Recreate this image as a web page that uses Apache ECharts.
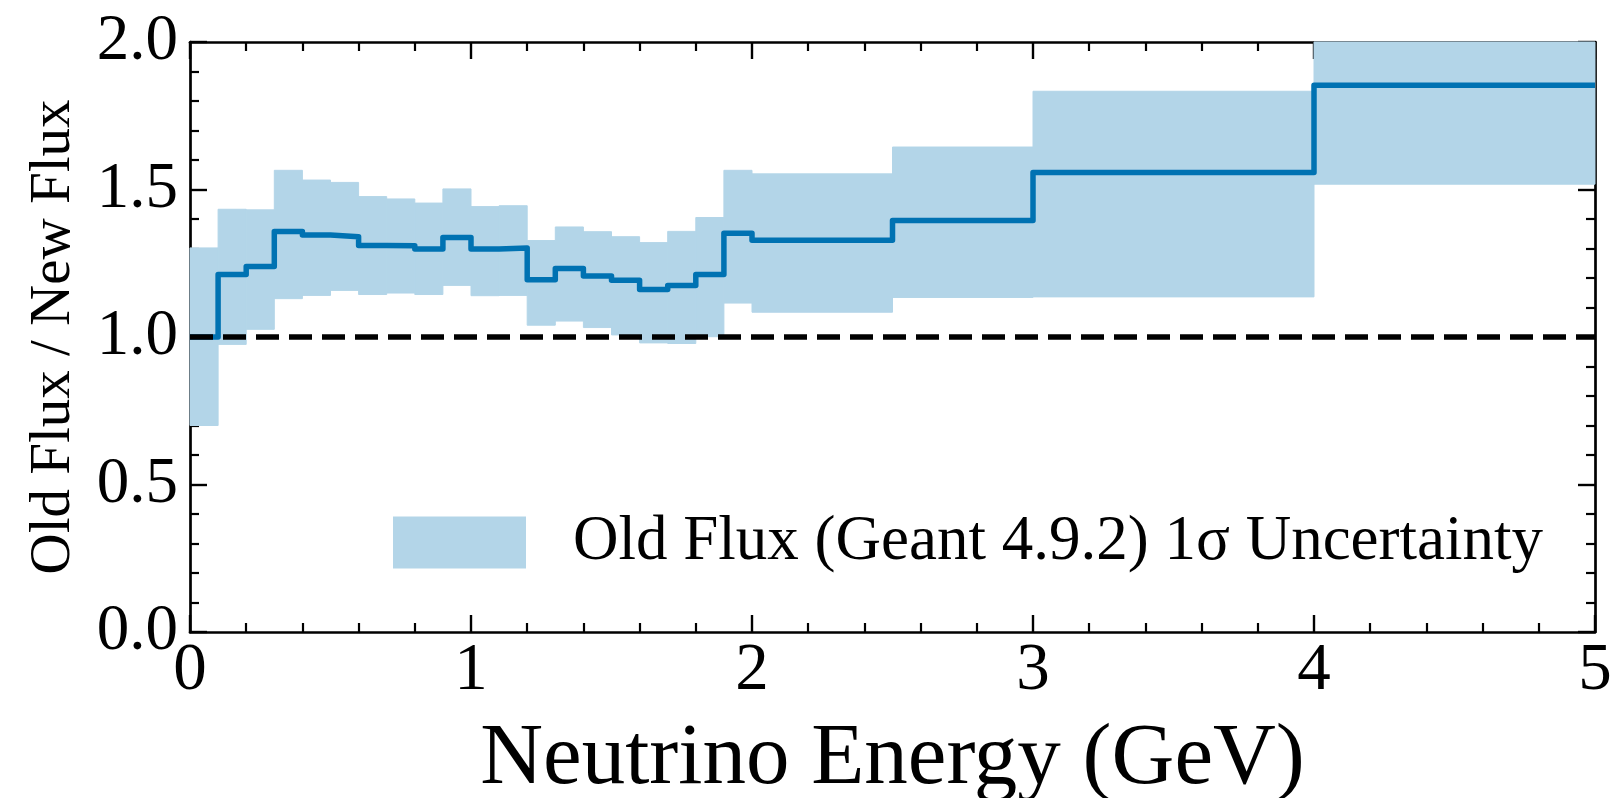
<!DOCTYPE html>
<html>
<head>
<meta charset="utf-8">
<script src="https://cdn.jsdelivr.net/npm/echarts@6/dist/echarts.min.js"></script>
<style>html,body{margin:0;padding:0;background:#fff}#c{width:1610px;height:798px}</style>
</head>
<body>
<div id="c"></div>
<script>
const binEdges = [0,0.1,0.2,0.3,0.4,0.5,0.6,0.7,0.8,0.9,1.0,1.1,1.2,1.3,1.4,1.5,1.6,1.7,1.8,1.9,2.0,2.5,3.0,4.0,5.0];
const ratio    = [1.00,1.212,1.239,1.358,1.346,1.340,1.310,1.309,1.298,1.337,1.298,1.302,1.194,1.232,1.207,1.192,1.161,1.175,1.212,1.352,1.328,1.395,1.558,1.853];
const bandLow  = [0.70,0.975,1.026,1.130,1.141,1.158,1.144,1.149,1.144,1.175,1.140,1.141,1.040,1.054,1.032,1.007,0.980,0.978,1.001,1.115,1.084,1.134,1.136,1.518];
const bandHigh = [1.302,1.433,1.431,1.565,1.532,1.524,1.476,1.468,1.454,1.502,1.442,1.445,1.327,1.373,1.357,1.340,1.320,1.358,1.405,1.565,1.553,1.644,1.833,2.15];
const xTicks = [0,1,2,3,4,5];
const yTicks = [0.0,0.5,1.0,1.5,2.0];
const refLevel = 1.0;
const bandName = 'Old Flux (Geant 4.9.2) 1\u03c3 Uncertainty';

const FONT = 'Liberation Serif';
const BAND = '#b3d5e8';
const LINE = '#0072b2';

const bandData = ratio.map((_, i) => [binEdges[i], binEdges[i+1], bandLow[i], bandHigh[i]]);
const stepData = ratio.map((v, i) => [binEdges[i], v]);
stepData.push([binEdges[binEdges.length-1], ratio[ratio.length-1]]);

const chart = echarts.init(document.getElementById('c'), null, {renderer:'canvas'});

const axisCommon = {
  type: 'value',
  axisLine: {show: true, onZero: false, lineStyle: {color: '#000', width: 2.7}},
  axisTick: {show: true, inside: true, length: 17, lineStyle: {color: '#000', width: 2.4}},
  minorTick: {show: true, splitNumber: 5, length: 9, lineStyle: {color: '#000', width: 2.2}},
  splitLine: {show: false},
  minorSplitLine: {show: false}
};

chart.setOption({
  animation: false,
  backgroundColor: '#fff',
  grid: {left: 190, right: 15, top: 42, bottom: 166, containLabel: false, outerBoundsMode: 'none'},
  legend: {
    data: [bandName],
    left: 393, top: 511,
    padding: 0,
    itemWidth: 133, itemHeight: 52,
    icon: 'rect',
    selectedMode: false,
    textStyle: {fontFamily: FONT, fontSize: 63, color: '#000', padding: [0,0,0,42]}
  },
  xAxis: [
    Object.assign({}, axisCommon, {
      position: 'bottom', min: xTicks[0], max: xTicks[xTicks.length-1], interval: 1,
      name: 'Neutrino Energy (GeV)', nameLocation: 'middle', nameGap: 85,
      nameTextStyle: {fontFamily: FONT, fontSize: 87, color: '#000'},
      axisLabel: {show: true, margin: 6, fontFamily: FONT, fontSize: 67, color: '#000', showMinLabel: true, showMaxLabel: true}
    }),
    Object.assign({}, axisCommon, {
      position: 'top', min: xTicks[0], max: xTicks[xTicks.length-1], interval: 1,
      axisLabel: {show: false}
    })
  ],
  yAxis: [
    Object.assign({}, axisCommon, {
      position: 'left', min: yTicks[0], max: yTicks[yTicks.length-1], interval: 0.5,
      name: 'Old Flux / New Flux', nameLocation: 'middle', nameGap: 107,
      nameTextStyle: {fontFamily: FONT, fontSize: 57, color: '#000'},
      axisLabel: {show: true, margin: 12, fontFamily: FONT, fontSize: 65, color: '#000',
        formatter: v => v.toFixed(1), showMinLabel: true, showMaxLabel: true}
    }),
    Object.assign({}, axisCommon, {
      position: 'right', min: yTicks[0], max: yTicks[yTicks.length-1], interval: 0.5,
      axisLabel: {show: false}
    })
  ],
  series: [
    {
      name: bandName,
      type: 'custom',
      xAxisIndex: 0, yAxisIndex: 0,
      itemStyle: {color: BAND},
      encode: {x: [0,1], y: [2,3]},
      data: bandData,
      z: 1,
      renderItem: function (params, api) {
        const p0 = api.coord([api.value(0), api.value(3)]);
        const p1 = api.coord([api.value(1), api.value(2)]);
        const cs = params.coordSys;
        const shape = echarts.graphic.clipRectByRect(
          {x: p0[0], y: p0[1], width: p1[0]-p0[0], height: p1[1]-p0[1]},
          {x: cs.x, y: cs.y, width: cs.width, height: cs.height});
        if (!shape) return;
        return {type: 'rect', shape: shape, style: {fill: BAND, stroke: BAND, lineWidth: 1}};
      }
    },
    {
      name: 'ratio',
      type: 'line',
      step: 'end',
      data: stepData,
      symbol: 'none',
      lineStyle: {color: LINE, width: 5.5, join: 'round'},
      z: 3
    },
    {
      name: 'ref',
      type: 'line',
      data: [[xTicks[0], refLevel], [xTicks[xTicks.length-1], refLevel]],
      symbol: 'none',
      lineStyle: {color: '#000', width: 5.5, type: [23, 10]},
      z: 4
    }
  ]
});
</script>
</body>
</html>
